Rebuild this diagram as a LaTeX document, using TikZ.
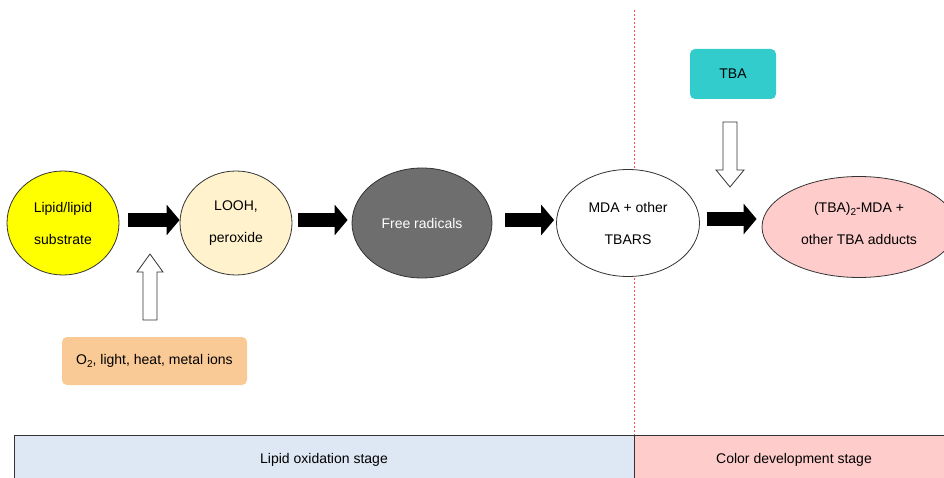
\documentclass[tikz,border=0pt]{standalone}
\usepackage{fontspec}
\setmainfont{Liberation Sans}
\usetikzlibrary{shapes.geometric,arrows.meta}
\definecolor{cYellow}{HTML}{FFFF00}
\definecolor{cBeige}{HTML}{FFF2CC}
\definecolor{cGray}{HTML}{6E6E6E}
\definecolor{cPink}{HTML}{FFCCCC}
\definecolor{cTeal}{HTML}{33CCCC}
\definecolor{cOrange}{HTML}{F9C996}
\definecolor{cBlue}{HTML}{DEE8F4}
\definecolor{cEdge}{HTML}{333333}
\begin{document}
\begin{tikzpicture}[x=1pt,y=-1pt,
  txt/.style={font=\fontsize{14}{32}\selectfont, align=center, text=black},
  oval/.style={ellipse, draw=cEdge, line width=0.8pt, inner sep=0pt, txt},
  rbox/.style={rounded corners=5pt, inner sep=0pt, txt},
  blk/.style={line width=14pt, black, -{Triangle[length=13pt 0 0,width=30pt 0 0]}},
  hollow/.style={draw=cEdge, fill=white, line width=0.8pt, line join=miter},
  stagebox/.style={draw=cEdge, line width=0.8pt}
]
\useasboundingbox (0,0) rectangle (944,478);
% stage bar
\fill[cBlue] (14,435) rectangle (634,482);
\fill[cPink] (634,435) rectangle (948,482);
\draw[stagebox] (14,482) -- (14,435) -- (948,435);
\draw[stagebox] (634,435) -- (634,482);
\node[txt] (s1) at (324,460) {Lipid oxidation stage};
\node[txt] (s2) at (794,460) {Color development stage};
% divider
\draw[red!70, line width=0.6pt, dash pattern=on 2pt off 2pt] (634,10) -- (634,435);
% ovals
\node[oval, fill=cYellow, minimum width=112pt, minimum height=104pt] (lip) at (63,223) {Lipid/lipid\\substrate};
\node[oval, fill=cBeige, minimum width=112pt, minimum height=104pt] (looh) at (236,223) {LOOH,\\peroxide};
\node[oval, fill=cGray, minimum width=140pt, minimum height=110pt, text=white] (free) at (422,223) {Free radicals};
\node[oval, fill=white, minimum width=143pt, minimum height=107pt] (mda) at (628,223) {MDA + other\\TBARS};
\node[oval, fill=cPink, minimum width=194pt, minimum height=101pt, text depth=8pt] (tba2) at (859,227) {(TBA)\raisebox{-3pt}{\fontsize{10}{10}\selectfont 2}-MDA +\\other TBA adducts};
% boxes
\node[rbox, fill=cTeal, minimum width=86pt, minimum height=50pt] (tba) at (733,74) {TBA};
\node[rbox, fill=cOrange, minimum width=185pt, minimum height=48pt] (cond) at (154.5,361) {O\raisebox{-3pt}{\fontsize{10}{10}\selectfont 2}, light, heat, metal ions};
% black arrows
\draw[blk, shorten <=9pt] ([yshift=3pt]lip.east) -- ([yshift=3pt]looh.west);
\draw[blk, shorten <=6pt, shorten >=4pt] ([yshift=3pt]looh.east) -- ([yshift=3pt]free.west);
\draw[blk, shorten <=13pt, shorten >=2pt] ([yshift=3pt]free.east) -- ([yshift=3pt]mda.west);
\draw[blk, shorten <=7pt, shorten >=5pt] ([yshift=4pt]mda.east) -- ([yshift=8pt]tba2.west);
% hollow arrows
\draw[hollow] (143,320) -- (143,272) -- (137,272) -- (150,254) -- (163,272) -- (157,272) -- (157,320) -- cycle;
\draw[hollow] (723,122) -- (737,122) -- (737,170) -- (744,170) -- (730,187) -- (716,170) -- (723,170) -- cycle;
\end{tikzpicture}
\end{document}
